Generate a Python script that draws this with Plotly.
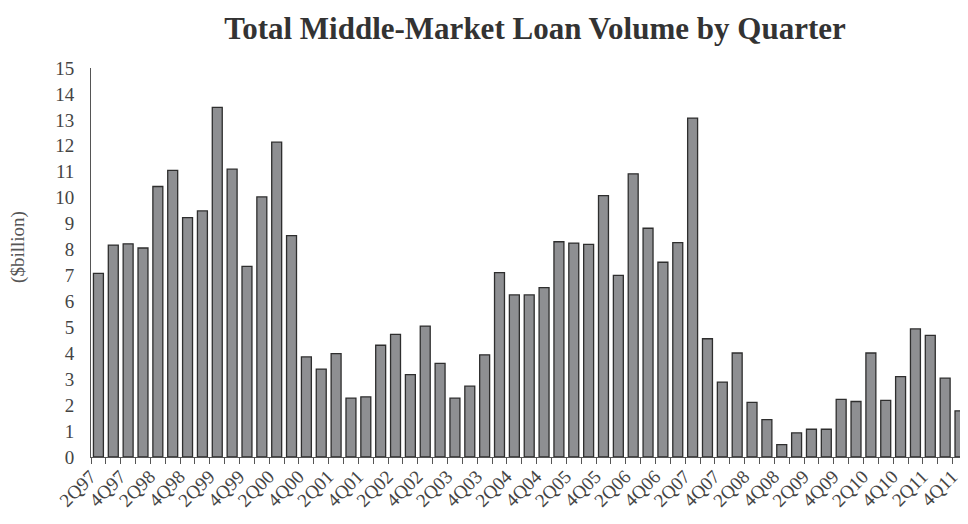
import plotly.graph_objects as go

quarters = [
    "2Q97", "3Q97", "4Q97",
    "1Q98", "2Q98", "3Q98", "4Q98",
    "1Q99", "2Q99", "3Q99", "4Q99",
    "1Q00", "2Q00", "3Q00", "4Q00",
    "1Q01", "2Q01", "3Q01", "4Q01",
    "1Q02", "2Q02", "3Q02", "4Q02",
    "1Q03", "2Q03", "3Q03", "4Q03",
    "1Q04", "2Q04", "3Q04", "4Q04",
    "1Q05", "2Q05", "3Q05", "4Q05",
    "1Q06", "2Q06", "3Q06", "4Q06",
    "1Q07", "2Q07", "3Q07", "4Q07",
    "1Q08", "2Q08", "3Q08", "4Q08",
    "1Q09", "2Q09", "3Q09", "4Q09",
    "1Q10", "2Q10", "3Q10", "4Q10",
    "1Q11", "2Q11", "3Q11", "4Q11",
]

volume = [
    7.08, 8.17, 8.22,
    8.06, 10.43, 11.05, 9.23,
    9.49, 13.48, 11.1, 7.35,
    10.03, 12.14, 8.54, 3.86,
    3.39, 3.99, 2.27, 2.32,
    4.31, 4.73, 3.18, 5.05,
    3.61, 2.27, 2.73, 3.94,
    7.11, 6.25, 6.25, 6.53,
    8.3, 8.25, 8.2, 10.08,
    7.0, 10.92, 8.82, 7.51,
    8.27, 13.07, 4.56, 2.89,
    4.01, 2.11, 1.44, 0.48,
    0.93, 1.07, 1.07, 2.22,
    2.14, 4.01, 2.18, 3.1,
    4.94, 4.69, 3.04, 1.78,
]

tick_labels = [q if i % 2 == 0 else "" for i, q in enumerate(quarters)]
y_ticks = list(range(0, 16))

serif = "Liberation Serif, Times New Roman, serif"

fig = go.Figure(
    go.Bar(
        x=quarters,
        y=volume,
        marker=dict(color="#8e8f92", line=dict(color="#2e2e2e", width=1.3)),
    )
)

fig.update_layout(
    width=952,
    height=508,
    paper_bgcolor="white",
    plot_bgcolor="white",
    margin=dict(l=83, r=0, t=60, b=58.5, autoexpand=False),
    bargap=0.33,
    showlegend=False,
    title=dict(
        text="<b>Total Middle-Market Loan Volume by Quarter</b>",
        x=0.5536,
        xanchor="center",
        y=0.9606,
        yanchor="middle",
        font=dict(family=serif, size=31, color="#333333"),
    ),
    font=dict(family=serif, color="#444444"),
    annotations=[
        dict(
            text="($billion)",
            xref="paper", yref="paper",
            x=-0.084, y=0.54,
            xanchor="center", yanchor="middle",
            textangle=-90,
            showarrow=False,
            font=dict(family=serif, size=19, color="#555555"),
        )
    ],
)

fig.update_xaxes(
    type="category",
    automargin=False,
    tickmode="array",
    tickvals=quarters,
    ticktext=tick_labels,
    tickson="boundaries",
    ticks="outside",
    ticklen=6,
    tickcolor="#555555",
    tickwidth=1,
    tickangle=-45,
    ticklabelshift=-8,
    tickfont=dict(family=serif, size=19, color="#444444"),
    showline=True,
    linecolor="#555555",
    linewidth=1,
    showgrid=False,
    range=[-0.5, 58.0],
)

fig.update_yaxes(
    automargin=False,
    range=[0, 15],
    tickmode="array",
    tickvals=y_ticks,
    ticks="",
    ticklabelstandoff=12,
    showline=True,
    linecolor="#555555",
    linewidth=1,
    showgrid=False,
    zeroline=False,
    tickfont=dict(family=serif, size=19, color="#444444"),
)

fig.write_html("out.html")
